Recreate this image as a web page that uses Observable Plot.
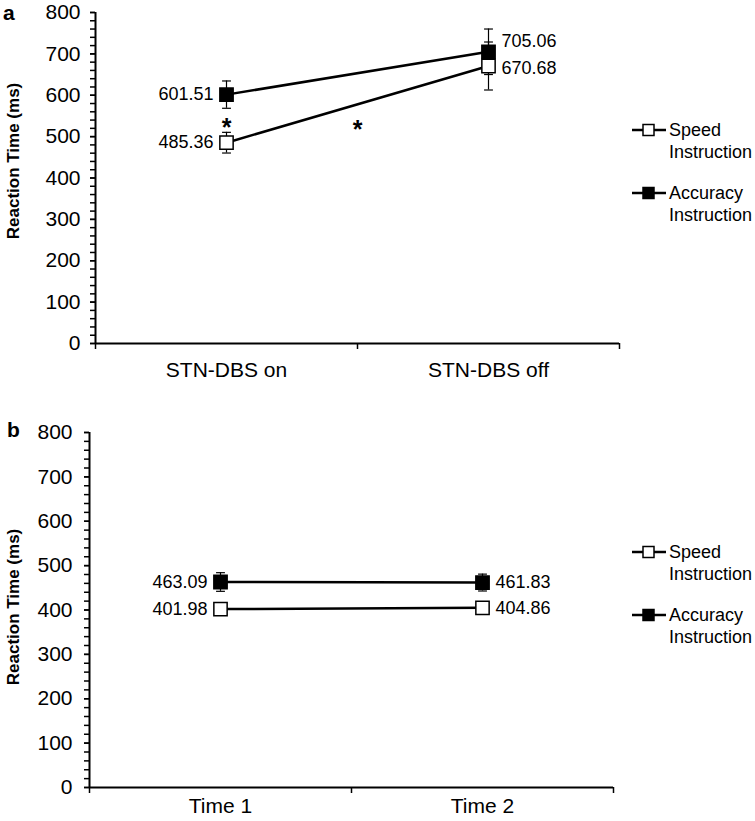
<!DOCTYPE html>
<html><head><meta charset="utf-8">
<script src="https://cdn.jsdelivr.net/npm/d3@7"></script>
<script src="https://cdn.jsdelivr.net/npm/@observablehq/plot@0.6"></script>
<style>
body{margin:0;background:#fff;font-family:"Liberation Sans",Arial,sans-serif;color:#000;}
#wrap{position:relative;width:755px;height:821px;overflow:hidden;}
.panel{position:absolute;left:0;}
.letter{position:absolute;font-weight:bold;font-size:21px;line-height:1.1;}
.legend{position:absolute;font-size:18px;line-height:22px;}
.legend .row{position:absolute;left:0;white-space:nowrap;}
.legend svg{position:absolute;left:0;}
.legend .lab{position:absolute;left:38px;top:-11px;}
</style></head><body><div id="wrap"></div>
<script>
// ---- data ----
const yMajorTicks = [0, 100, 200, 300, 400, 500, 600, 700, 800];
const yMinorTicks = d3.range(0, 801, 20);
const seriesNames = ["Speed Instruction", "Accuracy Instruction"];

const catsA = ["STN-DBS on", "STN-DBS off"];
const speedA = [485.36, 670.68];
const speedErrA = [25, 58];
const accuracyA = [601.51, 705.06];
const accuracyErrA = [33, 55];
const starsA = [{x: 0.5, y: 520}, {x: 1.0, y: 516}];

const catsB = ["Time 1", "Time 2"];
const speedB = [401.98, 404.86];
const speedErrB = [6, 6];
const accuracyB = [463.09, 461.83];
const accuracyErrB = [21, 19];

// cap symbol for error bars
const capSymbol = {draw(ctx, size) { const w = Math.sqrt(size); ctx.moveTo(-w / 2, 0); ctx.lineTo(w / 2, 0); }};

function buildRows(cats, speed, speedErr, acc, accErr) {
  const rows = [];
  cats.forEach((c, i) => {
    rows.push({series: "Speed", cat: c, i, x: i + 0.5, y: speed[i], err: speedErr[i]});
    rows.push({series: "Accuracy", cat: c, i, x: i + 0.5, y: acc[i], err: accErr[i]});
  });
  return rows;
}

function panel(cfg) {
  const rows = buildRows(cfg.cats, cfg.speed, cfg.speedErr, cfg.acc, cfg.accErr);
  const left = rows.filter(d => d.i === 0);
  const right = rows.filter(d => d.i === 1);
  return Plot.plot({
    width: 755, height: cfg.height,
    marginTop: cfg.mt, marginBottom: cfg.mb, marginLeft: cfg.ml, marginRight: cfg.mr,
    style: {fontFamily: '"Liberation Sans", Arial, sans-serif', fontSize: "18px", color: "#000", background: "#fff"},
    x: {domain: [0, cfg.cats.length], axis: null},
    y: {domain: [0, 800], axis: null},
    marks: [
      // axes
      Plot.axisY({ticks: yMinorTicks, tickSize: 5, tickFormat: () => "", strokeWidth: 1.5, label: null}),
      Plot.axisY({ticks: yMajorTicks, tickSize: 5, tickPadding: cfg.yPad, fontSize: 21, strokeWidth: 1.5, label: null}),
      Plot.axisX({ticks: d3.range(0, cfg.cats.length + 1), tickSize: 6, tickFormat: () => "", strokeWidth: 1.5, label: null}),
      Plot.axisX({ticks: cfg.cats.map((c, i) => i + 0.5), tickSize: 0, tickPadding: cfg.xPad, fontSize: 21, tickFormat: v => cfg.cats[Math.round(v - 0.5)], label: null}),
      Plot.ruleX([0], {stroke: "#000", strokeWidth: 2}),
      Plot.ruleY([0], {stroke: "#000", strokeWidth: 2}),
      Plot.text(["Reaction Time (ms)"], {frameAnchor: "left", textAnchor: "middle", rotate: -90, dx: -(cfg.ml - 13), dy: cfg.titleDy, fontWeight: "bold", fontSize: 17}),
      // error bars
      Plot.ruleX(rows, {x: "x", y1: d => d.y - d.err, y2: d => d.y + d.err, stroke: "#000", strokeWidth: 1.2}),
      Plot.dot(rows, {x: "x", y: d => d.y - d.err, symbol: capSymbol, r: 5, fill: "none", stroke: "#000", strokeWidth: 1.2}),
      Plot.dot(rows, {x: "x", y: d => d.y + d.err, symbol: capSymbol, r: 5, fill: "none", stroke: "#000", strokeWidth: 1.2}),
      // lines
      Plot.line(rows, {x: "x", y: "y", z: "series", stroke: "#000", strokeWidth: 2.5}),
      // markers
      Plot.dot(rows, {x: "x", y: "y", symbol: "square", r: 7.5, stroke: "#000", strokeWidth: 1.5, fill: d => d.series === "Speed" ? "#fff" : "#000"}),
      // value labels
      Plot.text(left, {x: "x", y: "y", text: d => d.y.toFixed(2), textAnchor: "end", dx: -13, fontSize: 18}),
      Plot.text(right.filter(d => d.series === "Speed"), {x: "x", y: "y", text: d => d.y.toFixed(2), textAnchor: "start", dx: 13, dy: cfg.rsDy, fontSize: 18}),
      Plot.text(right.filter(d => d.series === "Accuracy"), {x: "x", y: "y", text: d => d.y.toFixed(2), textAnchor: "start", dx: 13, dy: cfg.raDy, fontSize: 18}),
      // significance stars
      cfg.stars ? Plot.text(cfg.stars, {x: "x", y: "y", text: () => "*", fontSize: 25, fontWeight: "bold"}) : null
    ]
  });
}

function legendSymbol(filled) {
  return `<svg width="36" height="14" style="top:-7px"><line x1="1" y1="7" x2="35" y2="7" stroke="#000" stroke-width="2.5"/><rect x="12" y="1.5" width="11" height="11" fill="${filled ? "#000" : "#fff"}" stroke="#000" stroke-width="1.5"/></svg>`;
}
function legendHTML(top, left) {
  const el = document.createElement("div");
  el.className = "legend";
  el.style.top = top + "px"; el.style.left = left + "px";
  seriesNames.forEach((name, k) => {
    const [w1, w2] = name.split(" ");
    const row = document.createElement("div");
    row.className = "row";
    row.style.top = (k * 63) + "px";
    row.innerHTML = legendSymbol(k === 1) + `<div class="lab">${w1}<br>${w2}</div>`;
    el.appendChild(row);
  });
  return el;
}

const wrap = document.getElementById("wrap");
const a = panel({cats: catsA, speed: speedA, speedErr: speedErrA, acc: accuracyA, accErr: accuracyErrA,
  height: 390, mt: 12, mb: 47, ml: 95, mr: 136, yPad: 10, xPad: 19, titleDy: -17, rsDy: 2, raDy: -11, stars: starsA});
a.classList.add("panel"); a.style.top = "0px";
wrap.appendChild(a);
const b = panel({cats: catsB, speed: speedB, speedErr: speedErrB, acc: accuracyB, accErr: accuracyErrB,
  height: 421, mt: 32, mb: 34, ml: 89, mr: 142, yPad: 12, xPad: 11, titleDy: -3, rsDy: 0, raDy: 0});
b.classList.add("panel"); b.style.top = "400px";
wrap.appendChild(b);

const la = document.createElement("div"); la.className = "letter"; la.textContent = "a"; la.style.left = "3px"; la.style.top = "1px"; wrap.appendChild(la);
const lb = document.createElement("div"); lb.className = "letter"; lb.textContent = "b"; lb.style.left = "7px"; lb.style.top = "418px"; wrap.appendChild(lb);

wrap.appendChild(legendHTML(130, 631));
wrap.appendChild(legendHTML(552, 631));
</script></body></html>
